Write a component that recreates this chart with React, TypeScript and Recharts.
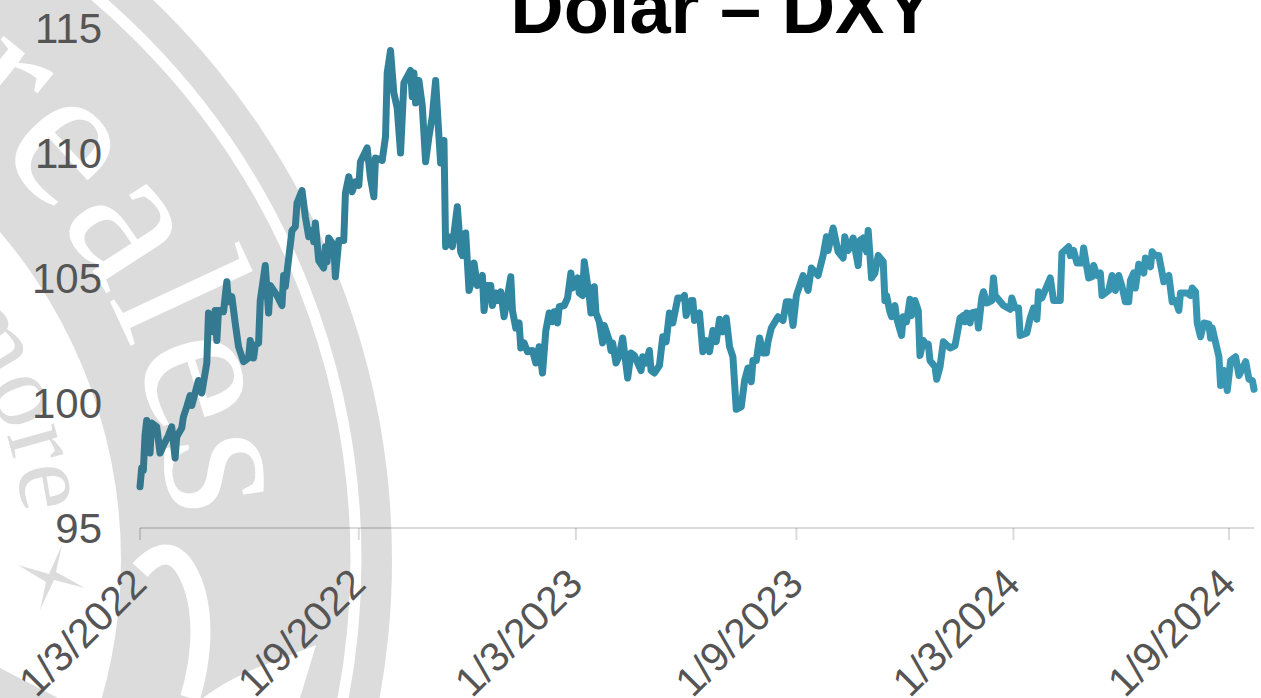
import React from "react";
import { LineChart, Line, XAxis, YAxis } from "recharts";

// trading session number, counted from 1/3/2022
const sessions = [
  0, 1, 2, 3, 4, 6, 7, 10, 12, 14, 17, 19,
  21, 22, 25, 26, 28, 30, 31, 33, 35, 37, 40, 41,
  44, 45, 46, 47, 50, 52, 53, 55, 57, 59, 62, 65,
  66, 68, 69, 71, 72, 75, 77, 78, 82, 85, 86, 87,
  91, 93, 94, 97, 99, 101, 103, 104, 105, 107, 110, 111,
  112, 113, 116, 117, 119, 122, 123, 125, 127, 129, 131, 132,
  136, 138, 140, 141, 145, 147, 148, 150, 152, 154, 156, 158,
  162, 163, 164, 165, 167, 169, 171, 173, 175, 177, 179, 180,
  182, 183, 185, 187, 190, 192, 193, 195, 197, 199, 200, 202,
  205, 206, 208, 210, 211, 213, 214, 216, 218, 220, 222, 223,
  225, 227, 228, 230, 232, 235, 237, 239, 241, 243, 245, 247,
  248, 250, 251, 254, 256, 258, 259, 262, 263, 265, 266, 269,
  270, 272, 273, 275, 277, 278, 281, 282, 283, 285, 287, 289,
  292, 294, 296, 300, 301, 303, 305, 306, 308, 311, 313, 315,
  317, 319, 322, 325, 326, 327, 330, 331, 332, 335, 337, 339,
  341, 343, 345, 347, 349, 351, 353, 355, 357, 360, 362, 364,
  366, 367, 369, 371, 373, 375, 376, 378, 382, 385, 387, 389,
  391, 393, 397, 400, 402, 406, 409, 411, 412, 415, 418, 421,
  422, 424, 427, 430, 431, 433, 435, 436, 438, 440, 442, 445,
  446, 447, 449, 450, 452, 453, 456, 457, 459, 461, 462, 464,
  466, 467, 469, 471, 472, 473, 476, 477, 479, 481, 485, 488,
  491, 493, 494, 495, 497, 498, 501, 502, 504, 505, 507, 510,
  511, 512, 517, 521, 522, 524, 526, 527, 531, 533, 535, 537,
  538, 540, 545, 547, 549, 551, 552, 556, 557, 559, 561, 564,
  565, 568, 570, 571, 573, 575, 576, 580, 582, 584, 586, 588,
  590, 592, 593, 595, 596, 598, 601, 602, 605, 606, 608, 610,
  613, 616, 618, 620, 622, 623, 627, 629, 630, 632, 633, 635,
  637, 640, 641, 642, 646, 647, 649, 651, 653, 656, 658, 662,
  664, 666, 667,
];

const dxy = [
  96.65, 97.4, 97.3, 98.7, 99.3, 98.0, 99.2, 99.05, 98.0, 98.3, 98.7, 99.05,
  97.8, 98.65, 99.0, 99.45, 99.85, 100.3, 99.9, 100.4, 100.9, 100.4, 101.6, 103.6,
  102.85, 103.7, 102.5, 103.7, 103.65, 104.85, 104.05, 104.25, 103.2, 102.25, 101.65, 101.8,
  102.5, 101.8, 102.3, 102.4, 104.1, 105.5, 103.6, 104.7, 104.3, 103.9, 105.1, 104.65,
  106.9, 107.05, 108, 108.5, 107.45, 106.65, 106.9, 106.45, 107.2, 105.7, 105.4, 106.25,
  105.65, 106.6, 106.3, 105.05, 106.5, 106.5, 108.4, 109.05, 108.45, 108.85, 108.7, 109.65,
  110.2, 109, 108.25, 109.8, 109.7, 110.65, 113.2, 114.1, 112.4, 111.8, 110, 112.8,
  113.3, 112.25, 113.2, 112, 112.9, 111.9, 109.65, 110.65, 111.45, 112.9, 110.65, 109.6,
  110.5, 106.25, 106.65, 106.25, 107.85, 106.05, 105.9, 106.8, 104.5, 105, 105.6, 104.7,
  105.1, 103.7, 104.7, 104.7, 103.9, 104.4, 104.1, 104.45, 103.45, 104.25, 105.05, 103.7,
  103, 103.2, 102.2, 102.4, 102.05, 102.1, 101.6, 102.25, 101.2, 102.9, 103.6, 103.25,
  103.65, 103.2, 103.85, 103.9, 104.2, 105.2, 104.6, 105, 104.4, 104.3, 105.65, 104.25,
  103.6, 104.65, 103.6, 103.25, 102.4, 103.1, 102.5, 102.1, 102.4, 101.6, 101.9, 102.6,
  101, 102, 101.9, 101.3, 101.85, 101.6, 102.1, 101.3, 101.2, 101.5, 102.65, 102.45,
  103.6, 103.2, 104.2, 104.2, 104.3, 103.5, 104.1, 104.1, 103.3, 103.6, 102.05, 102.5,
  102.05, 102.9, 102.45, 103.35, 102.85, 103.4, 102.25, 101.85, 99.75, 99.85, 100.9, 101.4,
  100.85, 101.7, 101.7, 102.6, 102, 102, 102.45, 103, 103.45, 103.3, 104.05, 104.05,
  103.1, 104.3, 105.1, 104.5, 105.4, 105.1, 105.9, 106.65, 106.1, 107, 106.05, 105.8,
  106.65, 106.1, 106.6, 105.5, 106.5, 106.6, 106.05, 106.9, 105, 105.2, 105.9, 105.65,
  104.1, 104.3, 103.65, 103.45, 103.9, 103.4, 102.7, 103.45, 103.25, 104.15, 103.5, 104.1,
  103.7, 101.9, 102.5, 102.3, 102.35, 101.7, 101.45, 100.95, 101.45, 102.45, 102.2, 102.3,
  103.4, 103.5, 103.25, 103.6, 103.2, 103.6, 103.65, 103, 104.2, 104.45, 104, 104.1,
  105, 104.3, 103.9, 103.75, 104.2, 103.8, 103.8, 102.7, 102.8, 103.4, 103.8, 103.35,
  104.45, 104.2, 105, 104.1, 104.1, 104.1, 106, 106.25, 105.9, 106.1, 105.6, 105.6,
  106.2, 105, 105.05, 105.5, 105.1, 105.2, 104.3, 104.5, 105.1, 104.5, 105.1, 104.65,
  104.05, 104.05, 104.9, 105.2, 104.6, 105.55, 105.2, 105.8, 105.45, 106.05, 105.9, 105.9,
  104.85, 105.1, 104.05, 104.1, 103.7, 104.4, 104.4, 104.3, 104.6, 104.45, 103.2, 102.65,
  103.2, 103.15, 102.6, 103, 101.85, 100.7, 101.3, 100.5, 101.7, 101.85, 101.1, 101.65,
  100.95, 100.9, 100.55,
];

const tickSessions = [0, 131, 261, 393, 523, 652];
const tickLabels = ["1/3/2022", "1/9/2022", "1/3/2023", "1/9/2023", "1/3/2024", "1/9/2024"];
const yTicks = [95, 100, 105, 110, 115];

const data = sessions.map((s, i) => ({ s, dxy: dxy[i] }));

const FONT = "'Liberation Sans', Arial, sans-serif";
const SERIF = "'Liberation Serif', serif";

// seal in the background, sits behind the chart
function Watermark() {
  const cx = -384;
  const cy = 560;
  const arc = (r: number) =>
    `M ${cx} ${cy - r} A ${r} ${r} 0 0 1 ${cx + r} ${cy} A ${r} ${r} 0 0 1 ${cx} ${cy + r}`;
  return (
    <svg width={1261} height={698} style={{ position: "absolute", left: 0, top: 0 }}>
      <defs>
        <path id="sealOuter" d={arc(557)} />
        <path id="sealInner" d={arc(410)} />
      </defs>
      <circle cx={cx} cy={cy} r={776} fill="#dcdcdc" />
      <circle cx={cx} cy={cy} r={740} fill="none" stroke="#fff" strokeWidth={11} />
      <circle cx={cx} cy={cy} r={505} fill="#fff" />
      <text fontFamily={SERIF} fontSize={205} fill="#fff" letterSpacing={2}>
        <textPath href="#sealOuter" startOffset={346}>
          reales
        </textPath>
      </text>
      <text fontFamily={SERIF} fontSize={105} fill="#dcdcdc">
        <textPath href="#sealInner" startOffset={382}>
          more
        </textPath>
      </text>
      <polygon
        points="62,545 56,572 85,588 54,580 40,610 46,582 18,565 49,574"
        fill="#dcdcdc"
      />
      <polygon points="0,668 58,698 0,698" fill="#dcdcdc" />
      <path
        d="M 140 570 C 160 548 180 545 195 590 C 205 625 200 665 190 698"
        fill="none"
        stroke="#fff"
        strokeWidth={20}
      />
      <path d="M 203 698 C 240 670 280 660 316 645 L 300 698 Z" fill="#fff" />
    </svg>
  );
}

function XTick(props: any) {
  const { x, y, payload } = props;
  const label = tickLabels[tickSessions.indexOf(payload.value)];
  return (
    <text
      x={x + 9}
      y={y + 44}
      textAnchor="end"
      fontFamily={FONT}
      fontSize={41}
      fill="#555"
      transform={`rotate(-45 ${x + 9} ${y + 44})`}
    >
      {label}
    </text>
  );
}

export default function App() {
  return (
    <div
      style={{
        position: "absolute",
        left: 0,
        top: 0,
        width: 1261,
        height: 698,
        overflow: "hidden",
        background: "#fff",
      }}
    >
      <Watermark />
      <div style={{ position: "absolute", left: 0, top: 0 }}>
        <LineChart
          width={1261}
          height={698}
          data={data}
          margin={{ top: 28, right: 7, left: 0, bottom: 0 }}
        >
          <defs>
            <linearGradient id="lineFade" x1="0" y1="0" x2="1" y2="0">
              <stop offset="0%" stopColor="#35768c" />
              <stop offset="40%" stopColor="#3089a4" />
              <stop offset="100%" stopColor="#3a98b4" />
            </linearGradient>
          </defs>
          <text
            x={722}
            y={33}
            textAnchor="middle"
            fontFamily={FONT}
            fontWeight="bold"
            fontSize={74}
            fill="#000"
          >
            Dolar – DXY
          </text>
          <XAxis
            dataKey="s"
            type="number"
            domain={[0, 667]}
            ticks={tickSessions}
            interval={0}
            height={170}
            tickSize={12}
            tick={<XTick />}
            axisLine={{ stroke: "rgba(0,0,0,0.14)", strokeWidth: 2 }}
            tickLine={{ stroke: "rgba(0,0,0,0.14)", strokeWidth: 2 }}
          />
          <YAxis
            type="number"
            domain={[95, 115]}
            ticks={yTicks}
            width={140}
            axisLine={false}
            tickLine={false}
            tickMargin={32}
            tick={{ fontSize: 42, fill: "#555", fontFamily: FONT }}
          />
          <Line
            dataKey="dxy"
            type="linear"
            stroke="url(#lineFade)"
            strokeWidth={7}
            strokeLinejoin="round"
            strokeLinecap="round"
            dot={false}
            activeDot={false}
            isAnimationActive={false}
          />
        </LineChart>
      </div>
    </div>
  );
}
